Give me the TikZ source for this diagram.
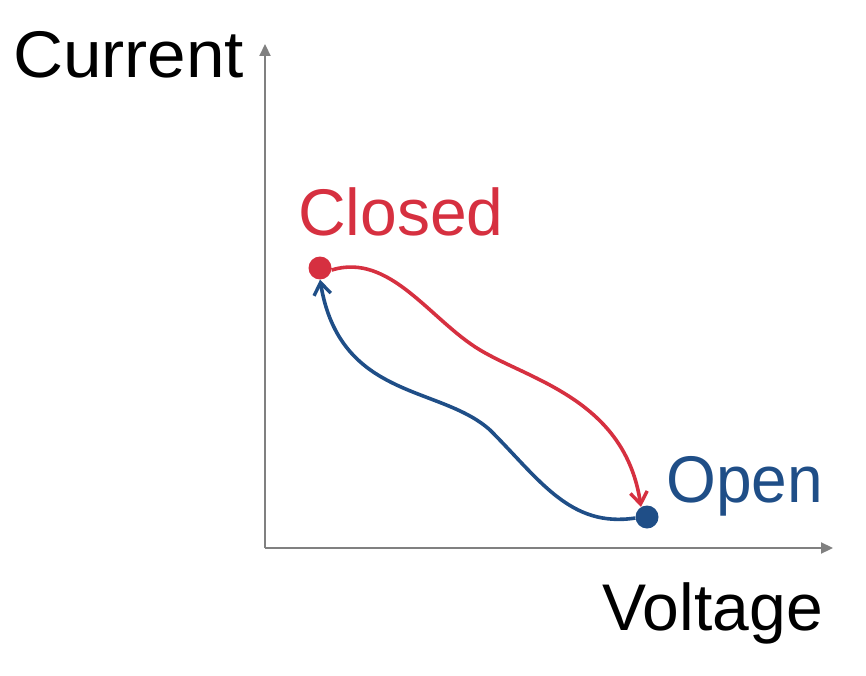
\documentclass[tikz,border=0pt]{standalone}
\usepackage{fontspec}
\setmainfont{Liberation Sans}
\usepackage{tikz}
\usetikzlibrary{arrows.meta}

\definecolor{closedred}{RGB}{214,48,64}
\definecolor{openblue}{RGB}{31,78,135}
\definecolor{axisgray}{RGB}{128,128,128}

\begin{document}
\begin{tikzpicture}[x=1pt, y=-1pt,
    axis/.style={draw=axisgray, line width=2.2pt, -{Triangle[length=12pt,width=11pt]}},
    lbl/.style={inner sep=0pt, font=\fontsize{66}{66}\selectfont},
    state/.style={circle, inner sep=0pt, minimum size=23pt},
    switchline/.style={line width=3.6pt, -{Straight Barb[length=12pt,width=17pt,line width=3.4pt]}}]
   \useasboundingbox (0,0) rectangle (866,676);

   % axes
   \coordinate (origin) at (265,548);
   \coordinate (ytip) at (265,44);
   \coordinate (xtip) at (833,548);
   \draw[axis] (origin) -- (ytip);
   \draw[axis] (origin) -- (xtip);

   \node[lbl, anchor=base west, xscale=1.05] (current) at (13,78) {Current};
   \node[lbl, anchor=base east] (voltage) at (823,630) {Voltage};

   % states
   \node[state, fill=closedred] (closed) at (320,268) {};
   \node[state, fill=openblue] (open) at (647,517) {};
   \node[lbl, anchor=base west, text=closedred] (closedlbl) at (298,236) {Closed};
   \node[lbl, anchor=base west, text=openblue, xscale=0.97] (openlbl) at (666,502) {Open};

   % switching
   \draw[switchline, closedred] (closed.-10) .. controls (390,252) and (430,320) .. (480,350)
        .. controls (530,380) and (625,400) .. (open.121);
   \draw[switchline, openblue] (open.185) .. controls (570,528) and (540,480) .. (490,430)
        .. controls (440,385) and (340,400) .. (closed.south);
\end{tikzpicture}
\end{document}
